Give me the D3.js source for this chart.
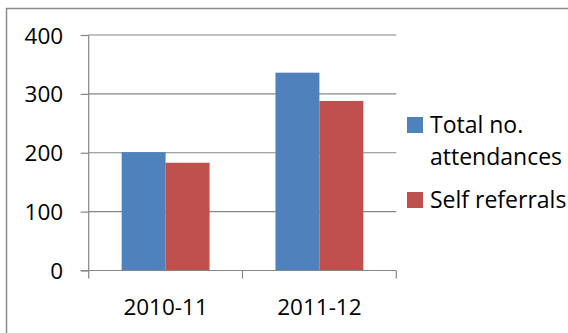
<!DOCTYPE html>
<html><head><meta charset="utf-8">
<script src="https://cdn.jsdelivr.net/npm/d3@7"></script>
<style>body{margin:0;background:#fff}svg{display:block}</style>
</head><body><svg id="c" width="568" height="333"></svg>
<script>
const categories = ["2010-11", "2011-12"];
const seriesNames = ["Total no. attendances", "Self referrals"];
const totalAttendances = [201, 336];
const selfReferrals = [183, 288];
const yTicks = [0, 100, 200, 300, 400];
const colors = ["#4F81BD", "#C0504D"];

const svg = d3.select("#c");
const font = "'Open Sans', sans-serif";
const L = 88.7, R = 396.3, T = 35, B = 270.5;

// outer border (top and left visible)
svg.append("path").attr("d", "M6.5,333 V8.5 H568").attr("fill", "none")
  .attr("stroke", "#8a8a8a").attr("stroke-width", 1.5);

const y = d3.scaleLinear().domain([0, 400]).range([B, T]);

// gridlines
svg.append("g").selectAll("line").data(yTicks.filter(d => d > 0)).join("line")
  .attr("x1", L).attr("x2", R).attr("y1", d => y(d)).attr("y2", d => y(d))
  .attr("stroke", "#868686").attr("stroke-width", 1.2);

// bars
const series = [totalAttendances, selfReferrals];
const catW = (R - L) / categories.length;
const barW = catW / 3.5;
const inner = d3.scaleBand().domain([0, 1]).range([0, 2 * barW]);
const xc = d3.scalePoint().domain(categories).range([L + catW/2, R - catW/2]);
series.forEach((vals, si) => {
  svg.append("g").selectAll("rect").data(vals).join("rect")
    .attr("x", (d, i) => xc(categories[i]) - barW + inner(si))
    .attr("width", inner.bandwidth())
    .attr("y", d => y(d)).attr("height", d => y(0) - y(d))
    .attr("fill", colors[si]);
});

// y axis
const yAxis = d3.axisLeft(y).tickValues(yTicks).tickSize(8).tickPadding(17.5).tickFormat(d3.format("d"));
const gy = svg.append("g").attr("transform", `translate(${L},0)`).call(yAxis);
gy.select(".domain").attr("d", `M0,${T} V${B}`).attr("stroke", "#868686").attr("stroke-width", 1.2);
gy.selectAll(".tick line").attr("stroke", "#868686").attr("stroke-width", 1.2);
gy.selectAll(".tick text").attr("font-family", font).attr("font-size", 22.5).attr("fill", "#000")
  .attr("dy", "0.36em");

// x axis
const xEdges = d3.scaleLinear().domain([0, categories.length]).range([L, R]);
const gx = svg.append("g");
gx.append("line").attr("x1", L - 8).attr("x2", R).attr("y1", B).attr("y2", B)
  .attr("stroke", "#868686").attr("stroke-width", 1.2);
gx.selectAll("line.t").data(d3.range(categories.length + 1)).join("line").attr("class", "t")
  .attr("x1", d => xEdges(d)).attr("x2", d => xEdges(d)).attr("y1", B).attr("y2", B + 8)
  .attr("stroke", "#868686").attr("stroke-width", 1.2);
gx.selectAll("text").data(categories).join("text")
  .attr("x", d => xc(d)).attr("y", 315).attr("text-anchor", "middle")
  .attr("font-family", font).attr("font-size", 22.5).attr("fill", "#000").text(d => d);

// legend
const leg = svg.append("g");
const legItems = [
  {lines: ["Total no.", "attendances"], y: 117, base: [133, 165]},
  {lines: ["Self referrals"], y: 192, base: [208]}
];
legItems.forEach((it, i) => {
  leg.append("rect").attr("x", 407).attr("y", it.y).attr("width", 16).attr("height", 16).attr("fill", colors[i]);
  it.lines.forEach((t, j) => {
    leg.append("text").attr("x", 430).attr("y", it.base[j]).attr("font-family", font)
      .attr("font-size", 23).attr("fill", "#000").text(t);
  });
});
</script></body></html>
